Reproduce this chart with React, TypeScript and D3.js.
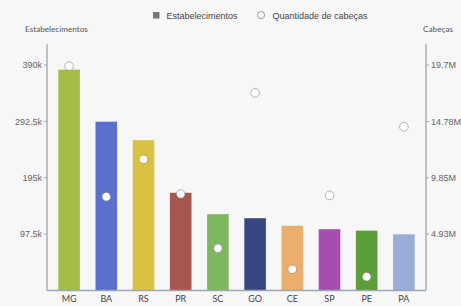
import React from 'react';
import * as d3 from 'd3';

const estados = ['MG', 'BA', 'RS', 'PR', 'SC', 'GO', 'CE', 'SP', 'PE', 'PA'];
const estabelecimentos = [382000, 292000, 260000, 169000, 132000, 125000, 112000, 106000, 103500, 97200];
const cabecas = [19600000, 8190000, 11460000, 8430000, 3680000, 17270000, 1850000, 8310000, 1200000, 14300000];
const coresBarras = ['#a3bd47', '#5a6fcf', '#d8c23f', '#a8574f', '#7db75f', '#384684', '#ebae6c', '#a54db0', '#5b9e3a', '#9aacd8'];
const ticksEstab = [97500, 195000, 292500, 390000];
const rotulosEstab = ['97.5k', '195k', '292.5k', '390k'];
const ticksCabecas = [4925000, 9850000, 14775000, 19700000];
const rotulosCabecas = ['4.93M', '9.85M', '14.78M', '19.7M'];

const W = 461;
const H = 306;
const baseY = 290.5;
const topY = 44;
const leftX = 47;
const rightX = 426;

export default function App() {
  const x = d3.scaleBand<string>()
    .domain(estados)
    .range([leftX + 3.5, rightX - 3.5])
    .paddingInner(0.42)
    .paddingOuter(0.21);

  const yL = d3.scaleLinear().domain([0, 390000]).range([baseY, 65]);
  const yR = d3.scaleLinear().domain([0, 19700000]).range([baseY, 65]);

  const tickFont = '"Liberation Sans", Arial, sans-serif';
  const labelFont = 'Lato, "Open Sans", sans-serif';

  return (
    <div style={{ position: 'fixed', left: 0, top: 0, width: W, height: H, background: '#f7f7f7' }}>
      <svg width={W} height={H} style={{ display: 'block' }}>
        <rect width={W} height={H} fill="#f7f7f7" />

        {/* legenda */}
        <rect x={153} y={12} width={6.5} height={6.5} fill="#777" />
        <text x={166.5} y={18.5} fontFamily={tickFont} fontSize={9} fill="#444">Estabelecimentos</text>
        <circle cx={261} cy={15.2} r={3.6} fill="#fff" stroke="#999" strokeWidth={1} />
        <text x={272.5} y={18.5} fontFamily={tickFont} fontSize={9} fill="#444">Quantidade de cabeças</text>

        {/* títulos dos eixos */}
        <text x={25} y={31.5} fontFamily={labelFont} fontSize={8.2} fill="#555">Estabelecimentos</text>
        <text x={453} y={31.5} fontFamily={labelFont} fontSize={8.2} fill="#555" textAnchor="end">Cabeças</text>

        {/* barras */}
        {estados.map((e, i) => (
          <rect
            key={e}
            x={x(e)}
            y={yL(estabelecimentos[i])}
            width={x.bandwidth()}
            height={baseY - yL(estabelecimentos[i])}
            fill={coresBarras[i]}
          />
        ))}

        {/* eixos */}
        <line x1={leftX} x2={leftX} y1={topY} y2={baseY} stroke="#9aa8b4" strokeWidth={1.3} />
        <line x1={rightX} x2={rightX} y1={topY} y2={baseY} stroke="#9aa8b4" strokeWidth={1.3} />
        <line x1={leftX} x2={rightX} y1={baseY} y2={baseY} stroke="#9aa8b4" strokeWidth={1.3} />

        {ticksEstab.map((t, i) => (
          <g key={t}>
            <line x1={leftX - 3} x2={leftX} y1={yL(t)} y2={yL(t)} stroke="#9aa8b4" />
            <text x={leftX - 5} y={yL(t)} dy="0.35em" textAnchor="end" fontFamily={tickFont} fontSize={9} fill="#666">{rotulosEstab[i]}</text>
          </g>
        ))}
        {ticksCabecas.map((t, i) => (
          <g key={t}>
            <line x1={rightX} x2={rightX + 3} y1={yR(t)} y2={yR(t)} stroke="#9aa8b4" />
            <text x={rightX + 5} y={yR(t)} dy="0.35em" fontFamily={tickFont} fontSize={9} fill="#666">{rotulosCabecas[i]}</text>
          </g>
        ))}

        {estados.map(e => (
          <text key={e} x={(x(e) ?? 0) + x.bandwidth() / 2} y={302} textAnchor="middle" fontFamily={labelFont} fontSize={9} fill="#444">{e}</text>
        ))}

        {/* pontos */}
        {estados.map((e, i) => (
          <circle
            key={e}
            cx={(x(e) ?? 0) + x.bandwidth() / 2}
            cy={yR(cabecas[i])}
            r={4.3}
            fill="#fff"
            stroke="rgba(120,120,120,0.55)"
            strokeWidth={1}
          />
        ))}
      </svg>
    </div>
  );
}
